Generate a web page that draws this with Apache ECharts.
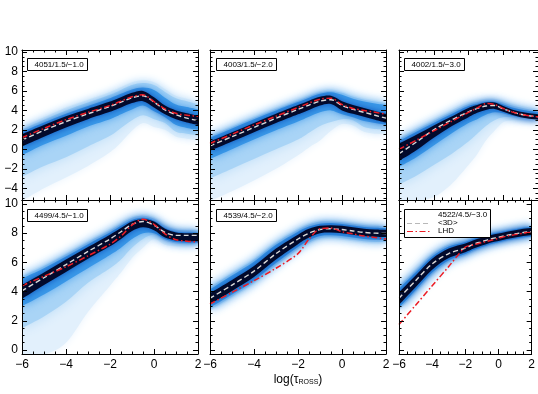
<!DOCTYPE html>
<html><head><meta charset="utf-8">
<script src="https://cdn.jsdelivr.net/npm/echarts@6/dist/echarts.min.js"></script>
<style>html,body{margin:0;padding:0;background:#fff}#c{width:538px;height:394px}</style>
</head><body><div id="c"></div><script>
// ---------------- data ----------------
const tau = [-6, -5, -4, -3, -2, -1.5, -1, -0.5, 0, 0.5, 1, 1.5, 2];
const xTicks = [-6, -4, -2, 0, 2];
const yTicksTop = [-4, -2, 0, 2, 4, 6, 8, 10];
const yTicksBottom = [0, 2, 4, 6, 8, 10];
const panelLabels = ['4051/1.5/\u22121.0', '4003/1.5/\u22122.0', '4002/1.5/\u22123.0',
                     '4499/4.5/\u22121.0', '4539/4.5/\u22122.0', '4522/4.5/\u22123.0'];
const seriesNames = ['<3D>', 'LHD'];

// panel 1: 4051/1.5/-1.0
const p1_3d  = [0.95, 1.95, 2.85, 3.65, 4.4, 4.85, 5.3, 5.5, 4.85, 4.05, 3.55, 3.2, 2.95];
const p1_lhd = [1.2, 2.15, 3.05, 3.8, 4.5, 4.95, 5.4, 5.6, 4.9, 4.15, 3.7, 3.5, 3.4];
const p1_outerLo = [-5.3, -4.0, -2.9, -1.7, -0.3, 0.7, 1.9, 2.7, 2.3, 2.0, 1.3, 1.1, 0.9];
const p1_outerHi = [2.3, 3.3, 4.3, 5.1, 5.9, 6.4, 6.9, 7.1, 6.9, 6.2, 5.5, 5.2, 4.9];
const p1_lightLo = [-2.8, -1.7, -0.8, 0.3, 1.4, 2.2, 3.0, 3.5, 3.1, 2.7, 1.8, 1.6, 1.4];
const p1_lightHi = [2.05, 3.05, 4.0, 4.8, 5.6, 6.1, 6.6, 6.8, 6.6, 5.9, 5.25, 4.95, 4.65];
const p1_midLo = [-0.6, 0.5, 1.4, 2.35, 3.1, 3.6, 4.1, 4.5, 3.9, 3.3, 2.5, 2.2, 2.0];
const p1_midHi = [1.8, 2.75, 3.65, 4.45, 5.25, 5.7, 6.15, 6.35, 6.1, 5.3, 4.6, 4.35, 4.1];
const p1_coreLo = [0.3, 1.3, 2.25, 3.1, 3.85, 4.3, 4.75, 4.95, 4.3, 3.6, 3.1, 2.75, 2.5];
const p1_coreHi = [1.55, 2.5, 3.4, 4.15, 4.9, 5.35, 5.8, 6.0, 5.35, 4.5, 4.0, 3.7, 3.45];

// panel 2: 4003/1.5/-2.0
const p2_3d  = [0.35, 1.3, 2.25, 3.2, 4.1, 4.55, 4.95, 5.1, 4.5, 4.1, 3.8, 3.5, 3.2];
const p2_lhd = [0.6, 1.55, 2.5, 3.4, 4.3, 4.75, 5.15, 5.25, 4.6, 4.2, 4.0, 3.8, 3.6];
const p2_outerLo = [-5.3, -4.3, -3.2, -2.0, -0.6, 0.2, 0.9, 1.9, 2.6, 2.45, 1.8, 1.6, 1.6];
const p2_outerHi = [1.5, 2.45, 3.4, 4.3, 5.15, 5.6, 6.0, 6.15, 5.95, 5.55, 5.25, 5.05, 4.9];
const p2_lightLo = [-3.0, -2.0, -1.0, 0.0, 1.0, 1.7, 2.4, 2.8, 3.1, 3.0, 2.3, 2.1, 2.0];
const p2_lightHi = [1.35, 2.3, 3.25, 4.15, 5.0, 5.45, 5.85, 6.0, 5.8, 5.4, 5.1, 4.9, 4.75];
const p2_midLo = [-1.0, 0.0, 1.0, 1.95, 2.85, 3.35, 3.8, 4.0, 3.6, 3.3, 2.9, 2.7, 2.5];
const p2_midHi = [1.2, 2.15, 3.1, 4.0, 4.85, 5.3, 5.7, 5.85, 5.6, 5.2, 4.9, 4.7, 4.55];
const p2_coreLo = [-0.15, 0.8, 1.75, 2.7, 3.6, 4.05, 4.5, 4.65, 4.0, 3.65, 3.35, 3.05, 2.75];
const p2_coreHi = [0.8, 1.75, 2.7, 3.65, 4.55, 5.0, 5.4, 5.5, 4.95, 4.55, 4.25, 3.95, 3.65];

// panel 3: 4002/1.5/-3.0
const p3_3d  = [-0.45, 0.75, 2.0, 3.0, 3.85, 4.2, 4.45, 4.5, 4.15, 3.85, 3.6, 3.45, 3.35];
const p3_lhd = [0.0, 0.95, 1.9, 2.85, 3.8, 4.25, 4.7, 4.6, 4.2, 3.85, 3.6, 3.45, 3.35];
const p3_outerLo = [-5.3, -5.3, -4.9, -3.6, -1.6, -0.5, 0.9, 1.9, 2.8, 3.0, 3.0, 3.0, 3.0];
const p3_outerHi = [1.25, 2.2, 3.1, 4.0, 4.85, 5.05, 5.2, 5.2, 5.0, 4.7, 4.5, 4.3, 4.2];
const p3_lightLo = [-3.6, -2.7, -1.6, -0.5, 0.8, 1.6, 2.4, 3.0, 3.3, 3.3, 3.2, 3.15, 3.1];
const p3_lightHi = [1.05, 2.0, 2.9, 3.8, 4.65, 4.85, 5.0, 5.0, 4.8, 4.5, 4.3, 4.1, 4.0];
const p3_midLo = [-1.8, -0.8, 0.4, 1.6, 2.7, 3.1, 3.55, 3.8, 3.7, 3.45, 3.3, 3.2, 3.1];
const p3_midHi = [0.85, 1.8, 2.7, 3.6, 4.45, 4.65, 4.85, 4.85, 4.6, 4.3, 4.1, 3.95, 3.85];
const p3_coreLo = [-1.2, -0.1, 1.2, 2.35, 3.3, 3.75, 4.05, 4.15, 3.85, 3.55, 3.3, 3.15, 3.05];
const p3_coreHi = [0.6, 1.5, 2.45, 3.35, 4.25, 4.55, 4.8, 4.8, 4.45, 4.1, 3.85, 3.7, 3.6];

// panel 4: 4499/4.5/-1.0
const p4_3d  = [4.05, 4.95, 5.85, 6.75, 7.6, 8.1, 8.6, 8.8, 8.55, 8.05, 7.85, 7.85, 7.85];
const p4_lhd = [4.4, 5.05, 5.7, 6.45, 7.25, 7.8, 8.55, 8.95, 8.6, 7.95, 7.55, 7.45, 7.4];
const p4_outerLo = [-0.3, -0.3, 0.5, 2.6, 4.4, 5.3, 6.3, 7.0, 7.6, 7.2, 7.1, 7.1, 7.1];
const p4_outerHi = [5.15, 5.85, 6.65, 7.5, 8.3, 8.75, 9.15, 9.3, 9.1, 8.6, 8.35, 8.3, 8.3];
const p4_lightLo = [1.5, 2.3, 3.3, 4.6, 5.6, 6.2, 7.0, 7.6, 7.9, 7.5, 7.3, 7.25, 7.25];
const p4_lightHi = [5.05, 5.75, 6.55, 7.4, 8.2, 8.65, 9.05, 9.2, 9.0, 8.5, 8.25, 8.2, 8.2];
const p4_midLo = [3.0, 3.8, 4.7, 5.6, 6.5, 7.0, 7.6, 8.0, 8.0, 7.6, 7.4, 7.35, 7.35];
const p4_midHi = [4.9, 5.6, 6.4, 7.25, 8.05, 8.5, 8.9, 9.05, 8.85, 8.35, 8.1, 8.05, 8.05];
const p4_coreLo = [3.5, 4.45, 5.35, 6.25, 7.1, 7.6, 8.15, 8.4, 8.2, 7.7, 7.5, 7.45, 7.45];
const p4_coreHi = [4.45, 5.3, 6.2, 7.05, 7.9, 8.35, 8.8, 8.95, 8.8, 8.3, 8.05, 8.0, 8.0];

// panel 5: 4539/4.5/-2.0
const p5_3d  = [3.55, 4.45, 5.4, 6.6, 7.6, 8.0, 8.25, 8.3, 8.25, 8.15, 8.05, 8.0, 7.98];
const p5_lhd = [3.15, 3.95, 4.75, 5.6, 6.6, 7.6, 8.3, 8.35, 8.1, 7.95, 7.8, 7.7, 7.6];
const p5_outerLo = [2.65, 3.55, 4.5, 5.7, 6.8, 7.25, 7.55, 7.62, 7.55, 7.45, 7.35, 7.3, 7.3];
const p5_outerHi = [4.4, 5.35, 6.3, 7.45, 8.35, 8.7, 8.9, 8.9, 8.85, 8.75, 8.65, 8.6, 8.58];
const p5_lightLo = [2.75, 3.65, 4.6, 5.8, 6.9, 7.35, 7.65, 7.72, 7.65, 7.55, 7.45, 7.4, 7.4];
const p5_lightHi = [4.3, 5.25, 6.2, 7.35, 8.25, 8.6, 8.8, 8.8, 8.75, 8.65, 8.55, 8.5, 8.48];
const p5_midLo = [2.9, 3.8, 4.75, 5.95, 7.05, 7.5, 7.8, 7.85, 7.8, 7.7, 7.6, 7.55, 7.53];
const p5_midHi = [4.15, 5.1, 6.05, 7.2, 8.1, 8.45, 8.65, 8.7, 8.62, 8.52, 8.42, 8.37, 8.35];
const p5_coreLo = [3.15, 4.05, 5.0, 6.2, 7.25, 7.7, 8.0, 8.05, 8.0, 7.9, 7.8, 7.75, 7.73];
const p5_coreHi = [3.9, 4.8, 5.75, 6.95, 7.9, 8.3, 8.5, 8.55, 8.5, 8.4, 8.3, 8.25, 8.23];

// panel 6: 4522/4.5/-3.0
const p6_3d  = [3.55, 4.75, 5.9, 6.6, 6.98, 7.25, 7.42, 7.6, 7.72, 7.85, 7.95, 8.05, 8.1];
const p6_lhd = [1.75, 3.07, 4.4, 5.72, 7.05, 7.2, 7.35, 7.5, 7.65, 7.8, 7.9, 8.0, 8.05];
const p6_outerLo = [2.65, 3.85, 5.05, 5.92, 6.38, 6.67, 6.9, 7.1, 7.25, 7.4, 7.5, 7.6, 7.66];
const p6_outerHi = [4.45, 5.55, 6.65, 7.3, 7.6, 7.8, 7.95, 8.1, 8.2, 8.3, 8.4, 8.5, 8.55];
const p6_lightLo = [2.75, 3.95, 5.15, 6.02, 6.47, 6.75, 6.97, 7.17, 7.31, 7.45, 7.56, 7.66, 7.72];
const p6_lightHi = [4.35, 5.45, 6.55, 7.2, 7.5, 7.72, 7.87, 8.02, 8.13, 8.24, 8.34, 8.44, 8.49];
const p6_midLo = [2.9, 4.1, 5.3, 6.15, 6.58, 6.84, 7.05, 7.25, 7.38, 7.52, 7.62, 7.72, 7.78];
const p6_midHi = [4.2, 5.3, 6.4, 7.08, 7.4, 7.62, 7.78, 7.94, 8.05, 8.17, 8.27, 8.37, 8.42];
const p6_coreLo = [3.1, 4.3, 5.5, 6.3, 6.7, 6.95, 7.15, 7.35, 7.47, 7.6, 7.7, 7.8, 7.85];
const p6_coreHi = [3.95, 5.1, 6.25, 6.95, 7.3, 7.52, 7.68, 7.85, 7.97, 8.1, 8.2, 8.3, 8.35];

// ---------------- layout / style ----------------
const FONT = "'Liberation Sans', Arial, Helvetica, sans-serif";
const colLeft = [22, 210, 399], rowTop = [50, 200], rowH = [150, 154], W = 176;
const yRange = [[-5.2, 10.2], [-0.27, 10.27]];
const bandColors = ['#e2f0fc', '#a9d4f6', '#3a98e8', '#020a2c'];
const bandShadow = ['#eaf4fd', '#b9dcf8', '#55a8ee', '#0a4fb8'];
const bandBlur = [8, 12, 10, 7];

const panels = [
  {d3: p1_3d, lhd: p1_lhd, bands: [[p1_outerLo, p1_outerHi], [p1_lightLo, p1_lightHi], [p1_midLo, p1_midHi], [p1_coreLo, p1_coreHi]]},
  {d3: p2_3d, lhd: p2_lhd, bands: [[p2_outerLo, p2_outerHi], [p2_lightLo, p2_lightHi], [p2_midLo, p2_midHi], [p2_coreLo, p2_coreHi]]},
  {d3: p3_3d, lhd: p3_lhd, bands: [[p3_outerLo, p3_outerHi], [p3_lightLo, p3_lightHi], [p3_midLo, p3_midHi], [p3_coreLo, p3_coreHi]]},
  {d3: p4_3d, lhd: p4_lhd, bands: [[p4_outerLo, p4_outerHi], [p4_lightLo, p4_lightHi], [p4_midLo, p4_midHi], [p4_coreLo, p4_coreHi]]},
  {d3: p5_3d, lhd: p5_lhd, bands: [[p5_outerLo, p5_outerHi], [p5_lightLo, p5_lightHi], [p5_midLo, p5_midHi], [p5_coreLo, p5_coreHi]]},
  {d3: p6_3d, lhd: p6_lhd, bands: [[p6_outerLo, p6_outerHi], [p6_lightLo, p6_lightHi], [p6_midLo, p6_midHi], [p6_coreLo, p6_coreHi]]}
];

const minus = v => String(v).replace('-', '\u2212');
function minorList(lo, hi) {
  const a = [];
  for (let v = Math.ceil(lo * 2) / 2; v <= hi + 1e-9; v += 0.5) {
    const r = +v.toFixed(2);
    if (Math.abs(r / 2 - Math.round(r / 2)) > 1e-9) a.push(r);
  }
  return a;
}
function crPath(pts, start) {
  let d = (start ? 'M' : 'L') + pts[0][0] + ',' + pts[0][1];
  const t = 1 / 6;
  for (let i = 0; i < pts.length - 1; i++) {
    const p0 = pts[Math.max(i - 1, 0)], p1 = pts[i], p2 = pts[i + 1], p3 = pts[Math.min(i + 2, pts.length - 1)];
    const c1 = [p1[0] + (p2[0] - p0[0]) * t, p1[1] + (p2[1] - p0[1]) * t];
    const c2 = [p2[0] - (p3[0] - p1[0]) * t, p2[1] - (p3[1] - p1[1]) * t];
    d += 'C' + c1[0] + ',' + c1[1] + ' ' + c2[0] + ',' + c2[1] + ' ' + p2[0] + ',' + p2[1];
  }
  return d;
}
function bandRender(j) {
  return function (params, api) {
    if (params.dataIndexInside !== 0) return null;
    const n = params.dataInsideLength;
    const up = [], dn = [];
    for (let k = 0; k < n; k++) {
      up.push(api.coord([api.value(0, k), api.value(2, k)]));
      dn.push(api.coord([api.value(0, k), api.value(1, k)]));
    }
    dn.reverse();
    const d = crPath(up, true) + crPath(dn, false) + 'Z';
    const style = {fill: bandColors[j], shadowBlur: bandBlur[j], shadowColor: bandShadow[j]};
    return {type: 'path', shape: {pathData: d}, style: style, silent: true};
  };
}

const grid = [], xAxis = [], yAxis = [], series = [];
const axisLineStyle = {show: true, onZero: false, lineStyle: {color: '#000', width: 1}};
panels.forEach((p, i) => {
  const row = Math.floor(i / 3), col = i % 3;
  grid.push({left: colLeft[col], top: rowTop[row], width: W, height: rowH[row], containLabel: false});
  const xBase = {
    type: 'value', gridIndex: i, min: -6, max: 2, interval: 2, z: 10,
    axisLine: axisLineStyle,
    axisTick: {show: true, inside: true, length: 5, lineStyle: {color: '#000', width: 1}},
    minorTick: {show: true, splitNumber: 4, length: 2.5, lineStyle: {color: '#000', width: 1}},
    splitLine: {show: false}, minorSplitLine: {show: false}
  };
  const xb = Object.assign({}, xBase, {
    position: 'bottom',
    axisLabel: {show: row === 1, customValues: xTicks, formatter: minus, fontSize: 12, color: '#000', fontFamily: FONT, margin: 5}
  });
  if (i === 4) {
    xb.name = '{a|log(\u03c4}{b|ROSS}{a|)}';
    xb.nameLocation = 'middle';
    xb.nameGap = 20;
    xb.nameTextStyle = {rich: {
      a: {fontSize: 12, fontFamily: FONT, color: '#000'},
      b: {fontSize: 7, fontFamily: FONT, color: '#000', verticalAlign: 'bottom', padding: [5, 0, 0, 0]}
    }};
  }
  xAxis.push(xb);
  xAxis.push(Object.assign({}, xBase, {position: 'top', axisLabel: {show: false}}));

  const [ymin, ymax] = yRange[row];
  const majors = row === 0 ? yTicksTop : yTicksBottom;
  const minors = minorList(ymin, ymax);
  const yBase = {type: 'value', gridIndex: i, min: ymin, max: ymax, z: 10, splitLine: {show: false}};
  yAxis.push(Object.assign({}, yBase, {
    position: 'left', axisLine: axisLineStyle,
    axisTick: {show: true, inside: true, length: 5, customValues: majors, lineStyle: {color: '#000', width: 1}},
    axisLabel: {show: col === 0, customValues: majors, formatter: minus, fontSize: 12, color: '#000', fontFamily: FONT, margin: 4}
  }));
  yAxis.push(Object.assign({}, yBase, {
    position: 'right', axisLine: axisLineStyle,
    axisTick: {show: true, inside: true, length: 5, customValues: majors, lineStyle: {color: '#000', width: 1}},
    axisLabel: {show: false}
  }));
  ['left', 'right'].forEach(pos => {
    yAxis.push(Object.assign({}, yBase, {
      position: pos, axisLine: {show: false, onZero: false},
      axisTick: {show: true, inside: true, length: 2.5, customValues: minors, lineStyle: {color: '#000', width: 1}},
      axisLabel: {show: false}
    }));
  });

  p.bands.forEach((b, j) => {
    const lo = b[0], hi = b[1];
    series.push({
      type: 'custom', coordinateSystem: 'cartesian2d', xAxisIndex: 2 * i, yAxisIndex: 4 * i,
      data: tau.map((x, k) => [x, lo[k], hi[k]]), encode: {x: 0, y: [1, 2]},
      renderItem: bandRender(j), clip: true, silent: true, z: 2
    });
  });
  series.push({
    name: seriesNames[0], type: 'line', xAxisIndex: 2 * i, yAxisIndex: 4 * i,
    data: tau.map((x, k) => [x, p.d3[k]]), symbol: 'none', smooth: 0.3, clip: true, silent: true, z: 3,
    lineStyle: {color: '#dadada', width: 1.4, type: [5, 3]}
  });
  series.push({
    name: seriesNames[1], type: 'line', xAxisIndex: 2 * i, yAxisIndex: 4 * i,
    data: tau.map((x, k) => [x, p.lhd[k]]), symbol: 'none', smooth: 0.3, clip: true, silent: true, z: 4,
    lineStyle: {color: '#ec1c24', width: 1.5, type: [6, 2.5, 1.5, 2.5]}
  });
});

// label boxes
const boxes = [[27, 58, 60, 12], [216, 58, 60, 12], [404, 58, 60, 12], [27, 209, 60, 12], [216, 209, 60, 12]];
const graphic = [];
function txt(text, x, y) {
  return {type: 'text', z: 101, style: {text: text, x: x, y: y, font: '8px ' + FONT, fill: '#000',
    align: 'left', verticalAlign: 'top'}};
}
boxes.forEach((b, i) => {
  graphic.push({type: 'rect', z: 100, shape: {x: b[0] + 0.5, y: b[1] + 0.5, width: b[2], height: b[3]},
    style: {fill: '#fff', stroke: '#000', lineWidth: 1}});
  graphic.push(txt(panelLabels[i], b[0] + 7.5, b[1] + 2.5));
});
// legend box of last panel
graphic.push({type: 'rect', z: 100, shape: {x: 404.5, y: 209.5, width: 86, height: 28},
  style: {fill: '#fff', stroke: '#000', lineWidth: 1}});
graphic.push(txt(panelLabels[5], 438, 210.5));
graphic.push(txt(seriesNames[0], 438, 218.5));
graphic.push(txt(seriesNames[1], 438, 227));
graphic.push({type: 'line', z: 101, shape: {x1: 407, y1: 223.5, x2: 430, y2: 223.5},
  style: {stroke: '#b8b8b8', lineWidth: 1, lineDash: [5, 3]}});
graphic.push({type: 'line', z: 101, shape: {x1: 407, y1: 231.5, x2: 430, y2: 231.5},
  style: {stroke: '#ec1c24', lineWidth: 1.2, lineDash: [6, 2.5, 1.5, 2.5]}});

const chart = echarts.init(document.getElementById('c'), null, {renderer: 'canvas'});
chart.setOption({
  animation: false,
  backgroundColor: '#fff',
  grid, xAxis, yAxis, series, graphic
});
</script></body></html>
